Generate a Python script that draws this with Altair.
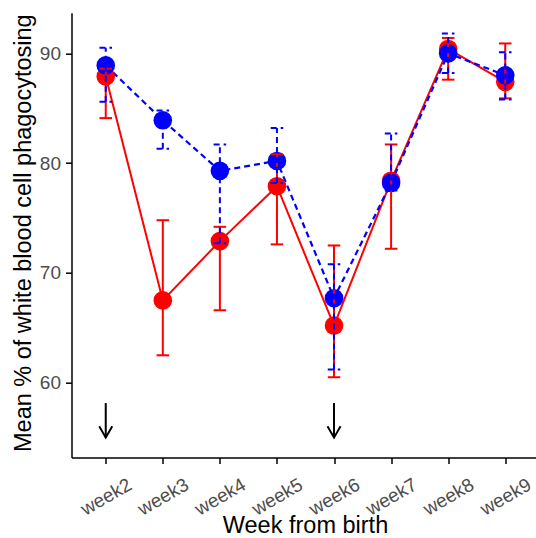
import altair as alt
import pandas as pd

# ---- data ----
weeks = ["week2", "week3", "week4", "week5", "week6", "week7", "week8", "week9"]

red_mean = [87.9, 67.5, 72.9, 77.9, 65.2, 78.4, 90.4, 87.4]
red_lo = [84.1, 62.5, 66.6, 72.6, 60.5, 72.2, 87.6, 85.9]
red_hi = [88.6, 74.8, 74.2, 80.8, 72.5, 81.7, 91.4, 90.9]

blue_mean = [88.9, 83.9, 79.3, 80.2, 67.7, 78.2, 90.0, 88.0]
blue_lo = [85.6, 81.3, 72.7, 78.2, 61.2, 77.5, 88.2, 85.8]
blue_hi = [90.5, 84.8, 81.7, 83.2, 70.8, 82.7, 91.8, 90.1]

arrow_weeks = ["week2", "week6"]
arrow_start = [58.15, 58.15]
arrow_end = [55.0, 55.0]

y_ticks = [60, 70, 80, 90]

# ---- tables ----
rows = []
for name, m, lo, hi in [("Group A", red_mean, red_lo, red_hi),
                        ("Group B", blue_mean, blue_lo, blue_hi)]:
    for i, w in enumerate(weeks):
        rows.append(dict(week=w, idx=i, series=name, mean=m[i], lo=lo[i], hi=hi[i]))
df = pd.DataFrame(rows)

arrows = pd.DataFrame({
    "week": arrow_weeks,
    "idx": [weeks.index(w) for w in arrow_weeks],
    "y0": arrow_start,
    "y1": arrow_end,
})

FONT = "Liberation Sans"
x_scale = alt.Scale(domain=[-0.6, 7.539], nice=False, zero=False)
y_scale = alt.Scale(domain=[53.19, 93.70], nice=False, zero=False)

label_expr = "[" + ",".join("'%s'" % w for w in weeks) + "][datum.value]"

x_axis = alt.Axis(
    values=list(range(len(weeks))), labelExpr=label_expr,
    title="Week from birth", labelAngle=330, labelAlign="center",
    labelBaseline="middle", labelPadding=33, tickSize=6,
    titleX=233.5, titleY=56, titleAlign="center", titleBaseline="top",
    titleAngle=0,
)
y_axis = alt.Axis(
    values=y_ticks, title="Mean % of white blood cell phagocytosing",
    labelPadding=5, tickSize=6, titleX=-36, titleY=220,
    titleAngle=270, titleAlign="center", titleBaseline="bottom",
)


def X(field):
    return alt.X(field, type="quantitative", scale=x_scale, axis=x_axis)


def Y(field):
    return alt.Y(field, type="quantitative", scale=y_scale, axis=y_axis)


CAP = 0.11


def series_layers(name, color, dash=None):
    extra = {"strokeDash": dash} if dash else {}
    base = alt.Chart(df).transform_filter(alt.datum.series == name)
    line = base.mark_line(color=color, strokeWidth=2.2 if dash else 2, **extra).encode(
        x=X("idx"), y=Y("mean"))
    pts = base.mark_circle(color=color, size=346, opacity=1).encode(
        x=X("idx"), y=Y("mean"))
    err = base.mark_rule(color=color, strokeWidth=2, **extra).encode(
        x=X("idx"), y=Y("lo"), y2="hi")
    capped = base.transform_calculate(
        xa="datum.idx - %f" % CAP, xb="datum.idx + %f" % CAP)
    cap_hi = capped.mark_rule(color=color, strokeWidth=2, **extra).encode(
        x=X("xa"), x2="xb", y=Y("hi"))
    cap_lo = capped.mark_rule(color=color, strokeWidth=2, **extra).encode(
        x=X("xa"), x2="xb", y=Y("lo"))
    return line, pts, err, cap_hi, cap_lo


rl, rp, re, rch, rcl = series_layers("Group A", "#FF0000")
bl, bp, be, bch, bcl = series_layers("Group B", "#0000FF", [6, 4])

arrow_shaft = alt.Chart(arrows).mark_rule(color="black", strokeWidth=2).encode(
    x=X("idx"), y=Y("y0"), y2="y1")
arrow_head = alt.Chart(arrows).mark_point(
    shape="M-1,-1.73L0,0L1,-1.73", filled=False, stroke="black",
    strokeWidth=2, size=170, opacity=1).encode(x=X("idx"), y=Y("y1"))

chart = alt.layer(
    rl, bl, rp, bp, re, rch, rcl, be, bch, bcl, arrow_shaft, arrow_head
).properties(
    width=464.5, height=444.8,
    autosize=alt.AutoSizeParams(type="none"),
    padding={"left": 71.5, "top": 12.7, "right": 0, "bottom": 80.5},
    background="white",
).configure_view(stroke=None).configure_axis(
    grid=False, domainColor="black", domainWidth=1.5, tickColor="black",
    tickWidth=1.5, labelFont=FONT, labelFontSize=19, labelColor="#4D4D4D",
    titleFont=FONT, titleFontSize=23.5, titleColor="black",
    titleFontWeight="normal",
)

chart.save("out.html", embed_options={"renderer": "svg", "actions": False})
